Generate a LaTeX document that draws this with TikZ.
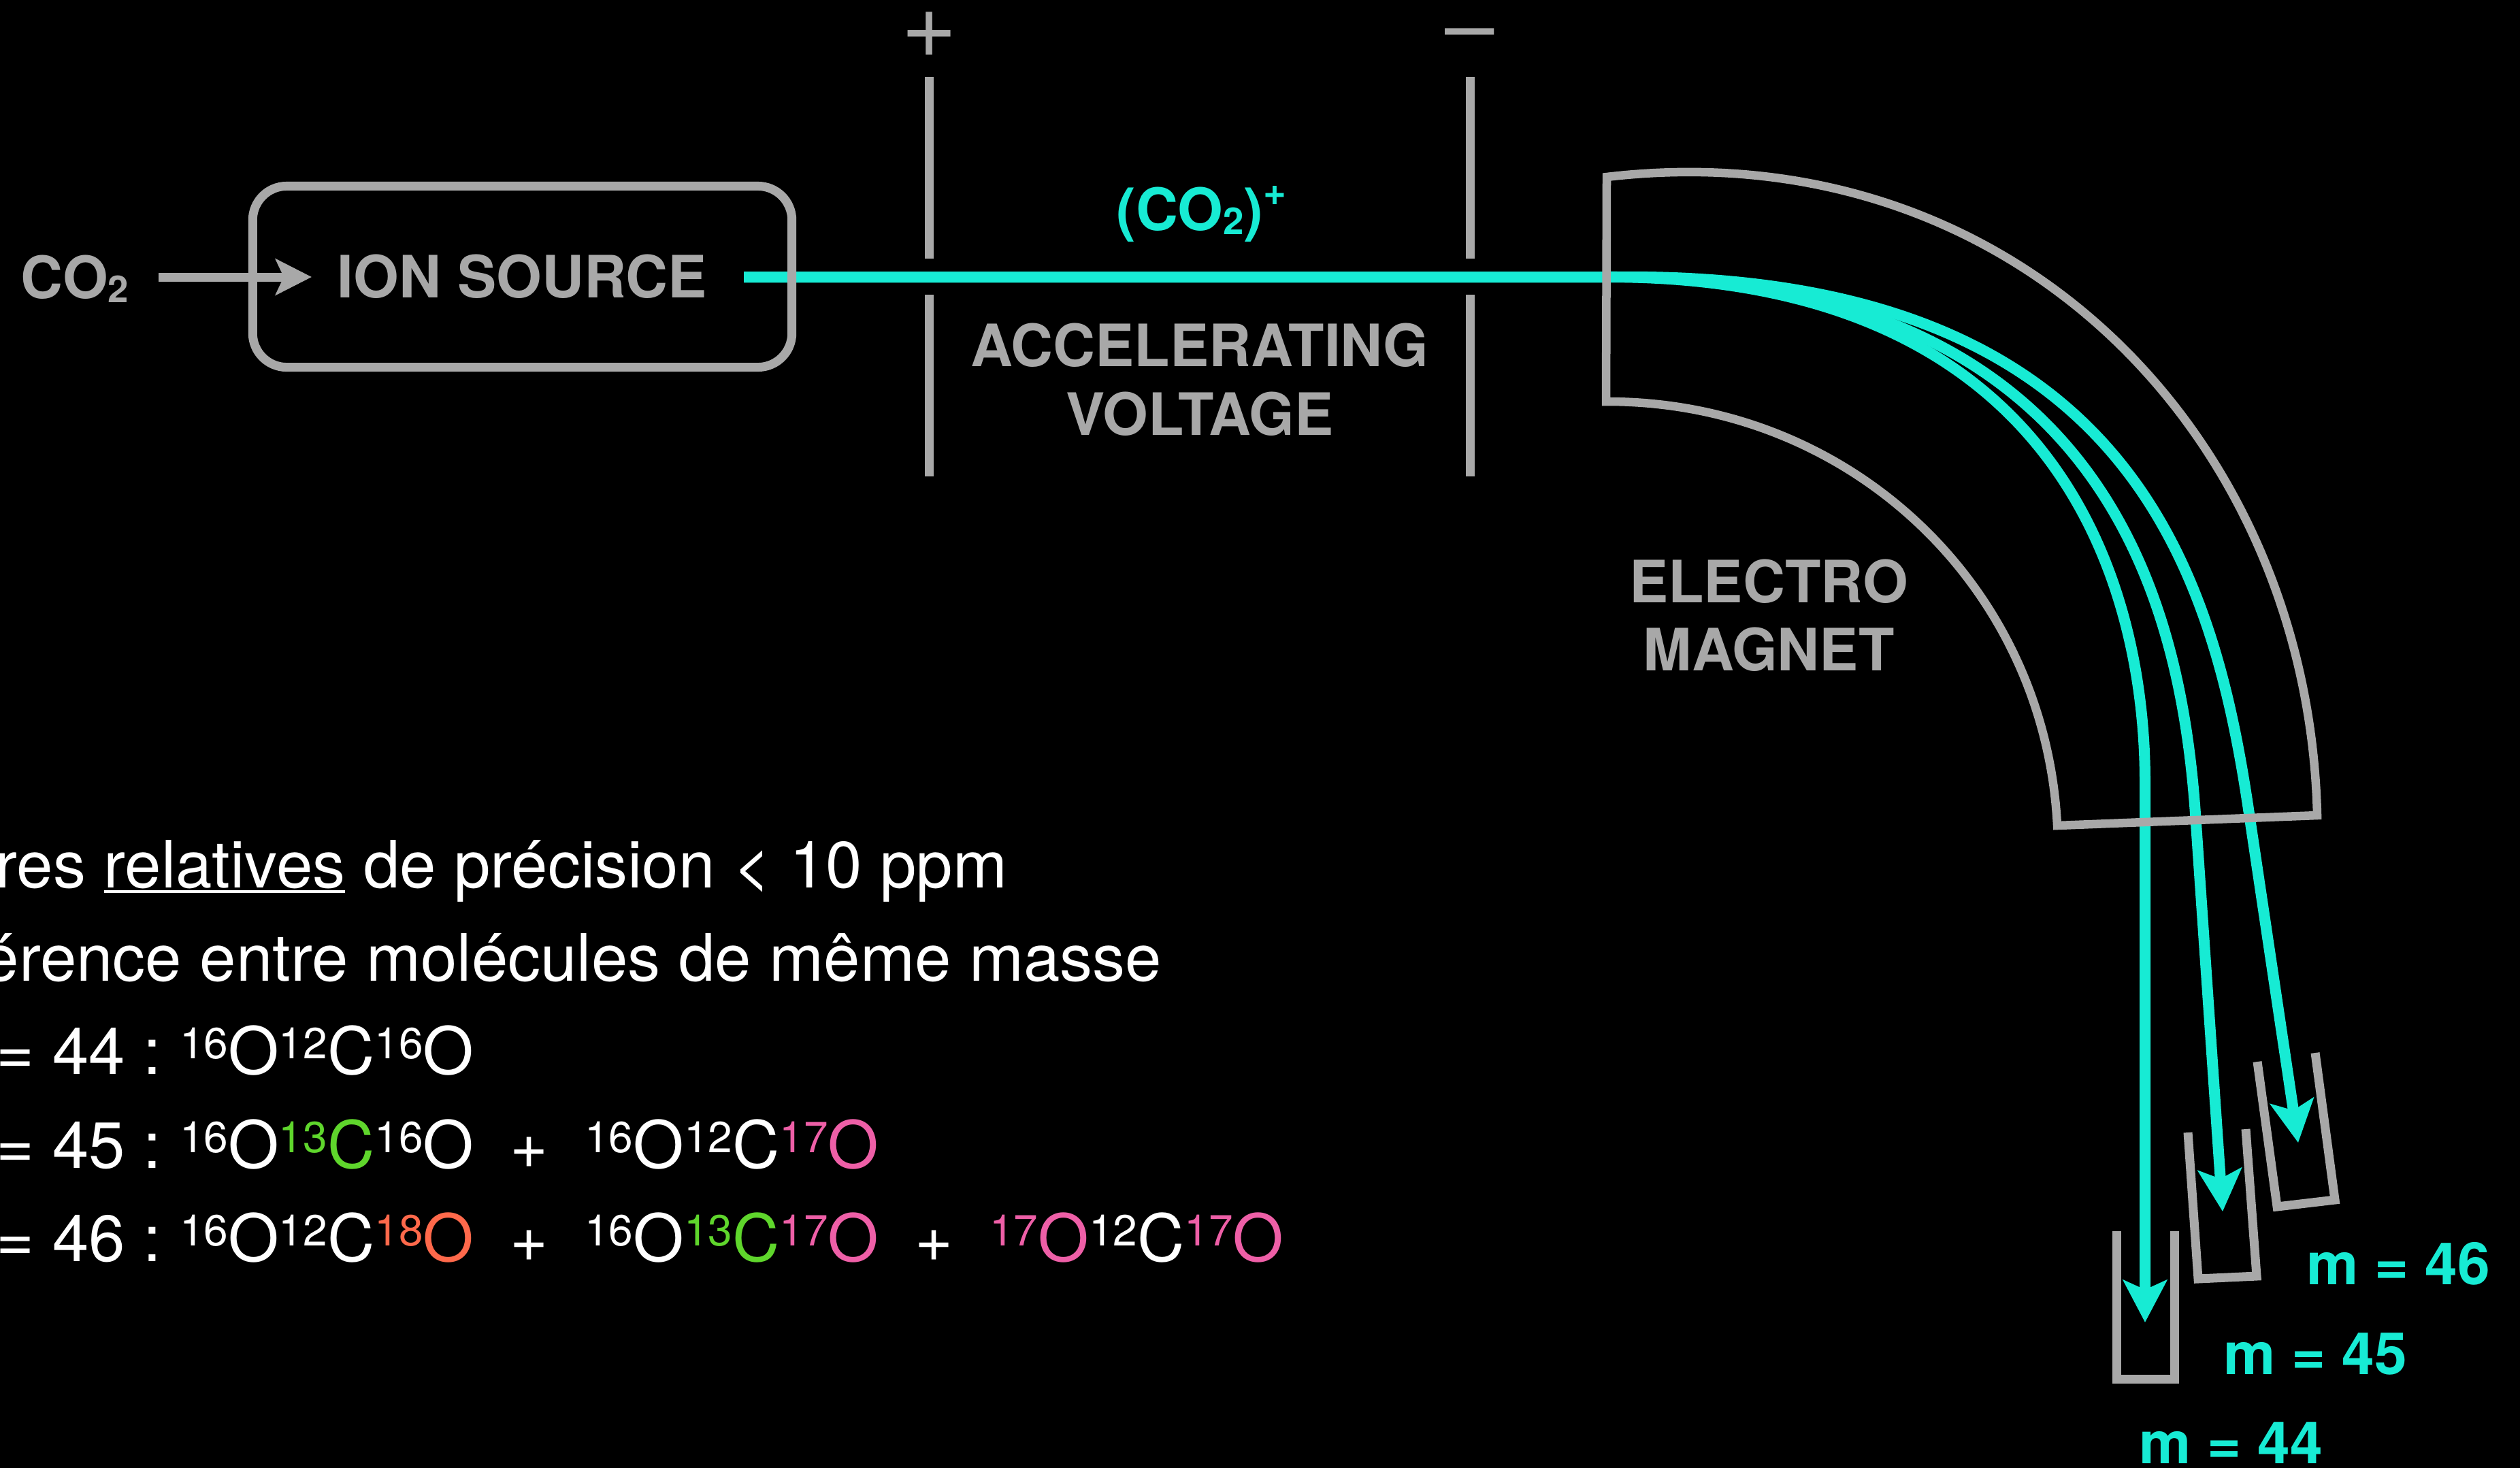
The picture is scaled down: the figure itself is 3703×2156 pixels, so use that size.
\documentclass[tikz,border=0pt]{standalone}
\usepackage{xcolor}
\usepackage{fontspec}
\usepackage{tikz}
\usetikzlibrary{arrows.meta, calc, positioning}
\setmainfont{TeX Gyre Heros}
\definecolor{beamcyan}{HTML}{17EBD4}
\definecolor{ashgrey}{HTML}{A8A8A8}
\definecolor{isogreen}{HTML}{5FD62C}
\definecolor{isopink}{HTML}{EE5FA7}
\definecolor{isoorange}{HTML}{FF694B}
\newcommand{\iso}[3][white]{\textcolor{#1}{\raisebox{0.23cm}{\fontsize{18.2}{20}\selectfont #2}#3}}
\newcommand{\subtwo}{\raisebox{-0.06cm}{\fontsize{15.5}{17}\selectfont 2}}
\newcommand{\ulword}[1]{\setbox0\hbox{#1}\rlap{\rule[-2.4pt]{\wd0}{1.4pt}}\box0\relax}

\begin{document}
\begin{tikzpicture}[x=0.01cm, y=-0.01cm,
  srcbox/.style  = {draw=ashgrey, line width=0.13cm, rounded corners=0.5cm, minimum width=7.92cm, minimum height=2.66cm, inner sep=0, text=ashgrey, font=\fontsize{24.4}{28}\selectfont\bfseries},
  greylbl/.style = {inner sep=0, text=ashgrey, font=\fontsize{24.4}{28}\selectfont\bfseries},
  cyanlbl/.style = {inner sep=0, anchor=base west, text=beamcyan, font=\fontsize{24.4}{28}\selectfont\bfseries},
  signlbl/.style = {inner sep=0, anchor=base, text=ashgrey, font=\fontsize{37}{40}\selectfont},
  isotxt/.style  = {inner sep=0, anchor=base west, text=white, font=\fontsize{27.3}{32}\selectfont},
  plate/.style   = {draw=ashgrey, line width=0.13cm},
  magnet/.style  = {draw=ashgrey, line width=0.125cm, line join=miter},
  cup/.style     = {draw=ashgrey, line width=0.13cm, line join=miter},
  gasarr/.style  = {-{Stealth[length=0.53cm,width=0.53cm,inset=0.12cm]}, ashgrey, line width=0.13cm},
  beam/.style    = {-{Stealth[length=0.62cm,width=0.64cm,inset=0.14cm]}, beamcyan, line width=0.16cm},
]
\useasboundingbox (0,0) rectangle (3703,2156);
\fill[black] (-20,-20) rectangle (3723,2176);
% beam end points
\coordinate (beamsrc) at (1093,407);
\coordinate (magin) at (2362,407);
\coordinate (bend44) at (3152,1150);
\coordinate (bend45) at (3226,1196);
\coordinate (bend46) at (3305,1196);
\coordinate (tip44) at (3152,1943);
\coordinate (tip45) at (3266,1780);
\coordinate (tip46) at (3377,1679);
\draw[beam] (beamsrc) -- (magin) .. controls (3042,407) and (3152,880) .. (bend44) -- (tip44);
\draw[beam] (beamsrc) -- (magin) .. controls (3093,403) and (3204,885) .. (bend45) -- (tip45);
\draw[beam] (beamsrc) -- (magin) .. controls (3126,395) and (3252,835) .. (bend46) -- (tip46);
% source
\node[srcbox] (src) at (767.5,406.5) {ION SOURCE};
\node[greylbl, anchor=base west] (co2) at (30,438) {CO\subtwo};
\coordinate (gasin) at (233,407);
\coordinate (gasend) at (458,407);
\draw[gasarr] (gasin) -- (gasend);
% accelerating plates
\node[signlbl, font=\fontsize{40}{44}\selectfont] (plus) at (1366,84) {+};
\node[signlbl] (minus) at (2160,82) {–};
\draw[plate] (1365.5,113) -- (1365.5,380);
\draw[plate] (1365.5,433) -- (1365.5,700);
\draw[plate] (2160,113) -- (2160,380);
\draw[plate] (2160,433) -- (2160,700);
\node[cyanlbl] (ion) at (1640,338) {(CO\subtwo)\raisebox{0.36cm}{\fontsize{16.5}{18}\selectfont +}};
\node[greylbl, anchor=base] (accel) at (1763,538) {ACCELERATING};
\node[greylbl, anchor=base] (volt) at (1763,639) {VOLTAGE};
% magnet
\draw[magnet] (2361,260) .. controls (2958,190) and (3392,642) .. (3405,1198) -- (3023,1213) .. controls (3005,860) and (2717,589) .. (2360,590) -- cycle;
\node[greylbl, anchor=base] (elec) at (2599,885) {ELECTRO};
\node[greylbl, anchor=base] (magn) at (2599,985) {MAGNET};
% collectors
\draw[cup] (3110,1809) -- (3110,2026) -- (3195.5,2026) -- (3195.5,1809);
\draw[cup] (3215,1664) -- (3230,1879) -- (3316,1875) -- (3300,1659);
\draw[cup] (3317,1560) -- (3346,1773) -- (3431,1763) -- (3402,1547);
\node[cyanlbl] (m46) at (3389,1887) {m = 46};
\node[cyanlbl] (m45) at (3267,2019) {m = 45};
\node[cyanlbl] (m44) at (3143,2150) {m = 44};
% text lines
\node[isotxt] (lmes) at (-7,1304) {res \ulword{relatives} de précision < 10 ppm};
\node[isotxt] (ldif) at (-26,1441) {érence entre molécules de même masse};
\node[isotxt] (lm44) at (-6,1578) {= 44 :\hspace{0.265cm}\iso{16}{O}\iso{12}{C}\iso{16}{O}};
\node[isotxt] (lm45) at (-6,1716) {= 45 :\hspace{0.265cm}\iso{16}{O}\iso[isogreen]{13}{C}\iso{16}{O}\ \ +\ \ \iso{16}{O}\iso{12}{C}\iso[isopink]{17}{O}};
\node[isotxt] (lm46) at (-6,1853) {= 46 :\hspace{0.265cm}\iso{16}{O}\iso{12}{C}\iso[isoorange]{18}{O}\ \ +\ \ \iso{16}{O}\iso[isogreen]{13}{C}\iso[isopink]{17}{O}\ \ +\ \ \iso[isopink]{17}{O}\iso{12}{C}\iso[isopink]{17}{O}};
\end{tikzpicture}
\end{document}
